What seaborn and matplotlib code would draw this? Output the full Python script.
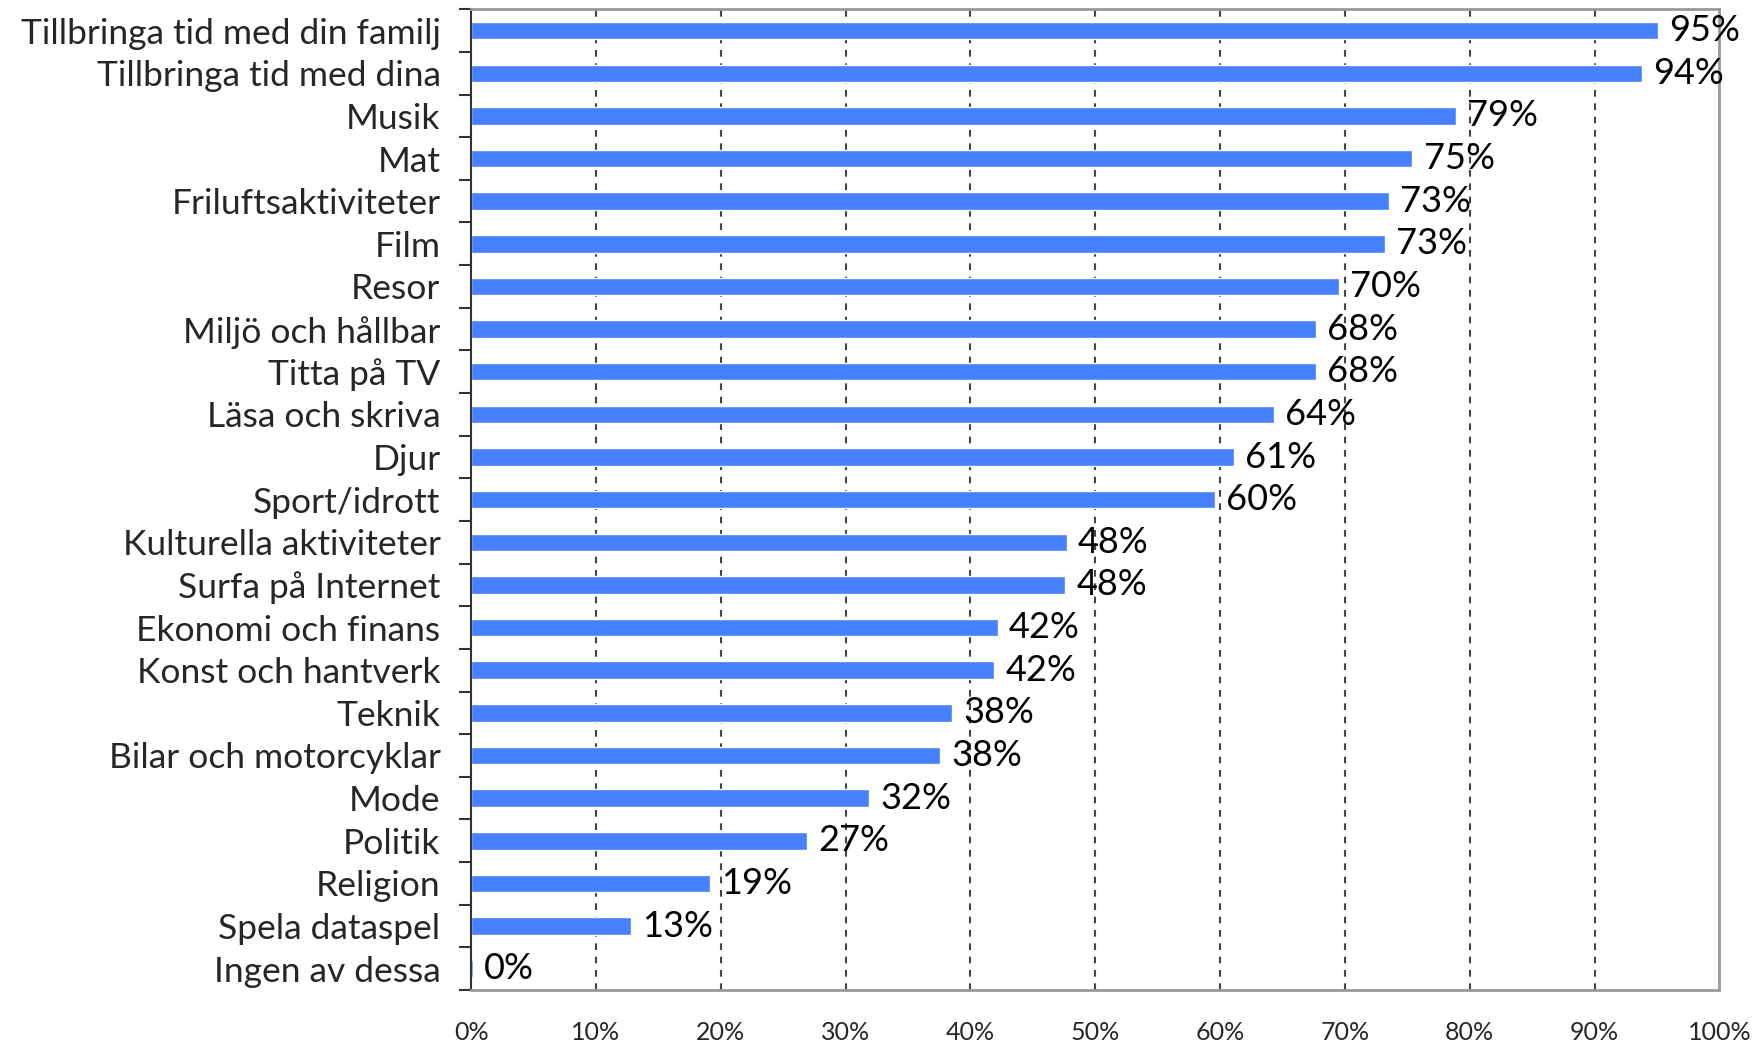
import matplotlib
matplotlib.use("Agg")
import matplotlib.pyplot as plt
import seaborn as sns
import pandas as pd
import numpy as np
from matplotlib.ticker import FixedLocator

categories = [
    "Tillbringa tid med din familj", "Tillbringa tid med dina", "Musik", "Mat",
    "Friluftsaktiviteter", "Film", "Resor", "Miljö och hållbar", "Titta på TV",
    "Läsa och skriva", "Djur", "Sport/idrott", "Kulturella aktiviteter",
    "Surfa på Internet", "Ekonomi och finans", "Konst och hantverk", "Teknik",
    "Bilar och motorcyklar", "Mode", "Politik", "Religion", "Spela dataspel",
    "Ingen av dessa",
]
values = [95.1, 93.8, 78.9, 75.4, 73.5, 73.2, 69.5, 67.7, 67.7, 64.3, 61.1, 59.6,
          47.7, 47.6, 42.2, 41.9, 38.5, 37.6, 31.9, 26.9, 19.1, 12.8, 0.15]
value_labels = ["95%", "94%", "79%", "75%", "73%", "73%", "70%", "68%", "68%", "64%",
                "61%", "60%", "48%", "48%", "42%", "42%", "38%", "38%", "32%", "27%",
                "19%", "13%", "0%"]
x_ticks = [0, 10, 20, 30, 40, 50, 60, 70, 80, 90, 100]
x_tick_labels = ["0%", "10%", "20%", "30%", "40%", "50%", "60%", "70%", "80%", "90%", "100%"]

sns.set_style("white")
plt.rcParams['font.family'] = ['Lato', 'DejaVu Sans']

df = pd.DataFrame({"cat": categories, "val": values})

fig = plt.figure(figsize=(17.58, 10.43), dpi=100)
ax = fig.add_axes([0.268, 0.0508, 0.710, 0.9403])

sns.barplot(data=df, y="cat", x="val", orient="h", color="#4680FF",
            saturation=1, width=0.41, ax=ax)

ax.set_xlim(0, 100)
ax.set_ylim(len(categories) - 0.5, -0.5)
ax.set_xlabel("")
ax.set_ylabel("")

ax.set_xticks(x_ticks)
ax.set_xticklabels(x_tick_labels, fontsize=18)
ax.tick_params(axis="x", length=0, pad=22)

ax.tick_params(axis="y", which="major", left=False, length=0, pad=22, labelsize=25.5)
ax.yaxis.set_minor_locator(FixedLocator(np.arange(-0.5, len(categories), 1.0)))
ax.tick_params(axis="y", which="minor", left=True, direction="out",
               length=9, width=1.5, color="#333333")

ax.grid(False)
for xt in x_ticks[1:-1]:
    ax.axvline(xt, color="#444444", linestyle=(0, (3.2, 3.2)), linewidth=1.5, zorder=0)

for side in ["top", "right", "bottom"]:
    ax.spines[side].set_color("#999999")
    ax.spines[side].set_linewidth(2)
ax.spines["left"].set_color("#333333")
ax.spines["left"].set_linewidth(1.5)

for i, (v, lab) in enumerate(zip(values, value_labels)):
    ax.text(v + 0.9, i, lab, va="center", ha="left", fontsize=26, color="black")

fig.savefig("out.png", dpi=100)
